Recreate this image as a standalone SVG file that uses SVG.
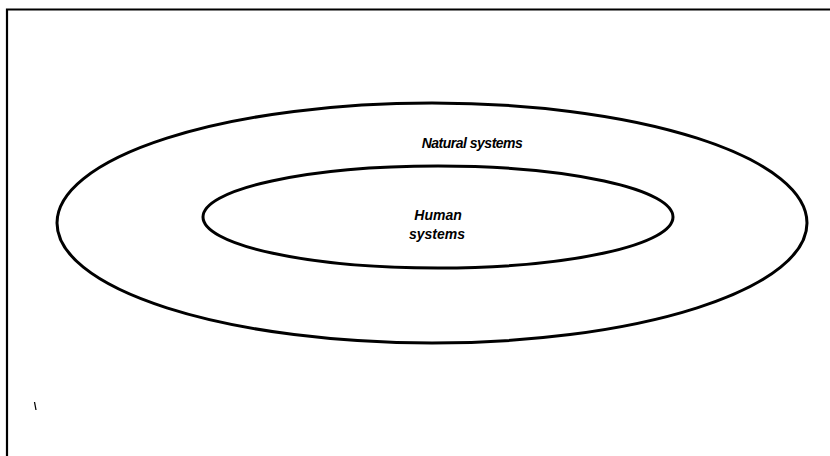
<svg xmlns="http://www.w3.org/2000/svg" width="830" height="456" viewBox="0 0 830 456">
<style>
.ring{fill:none;stroke:#000;stroke-width:3}
.lbl{font-family:"Liberation Sans",Arial,sans-serif;font-style:italic;font-weight:bold;font-size:14px;fill:#000;text-anchor:middle}
</style>
<rect width="830" height="456" fill="#fff"/>
<path d="M7,456 V9.5 H830" fill="none" stroke="#000" stroke-width="2.2"/>
<line x1="34.5" y1="402" x2="36" y2="410" stroke="#000" stroke-width="1.3"/>
<g id="natural">
<ellipse class="ring" cx="432" cy="223" rx="375" ry="120"/>
<text class="lbl" x="472" y="148" letter-spacing="-0.5">Natural systems</text>
</g>
<g id="human">
<ellipse class="ring" cx="438" cy="217" rx="235" ry="51"/>
<text class="lbl" x="438" y="220">Human</text>
<text class="lbl" x="437" y="239">systems</text>
</g>
<g id="connectors"></g>
</svg>
